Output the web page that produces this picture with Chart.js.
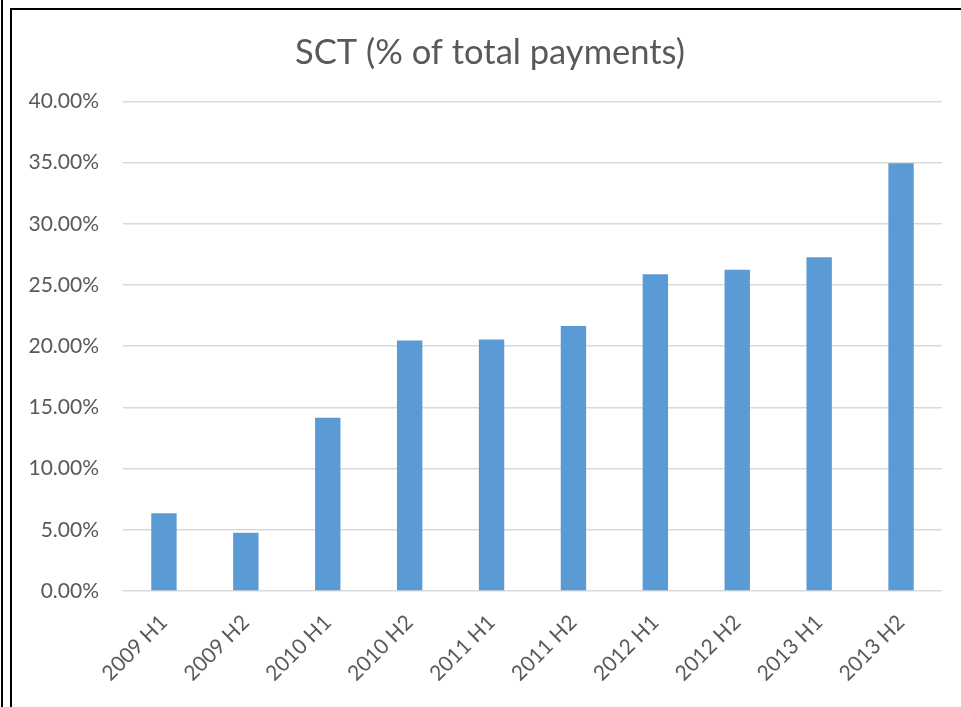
<!DOCTYPE html>
<html>
<head>
<meta charset="utf-8">
<script src="https://cdn.jsdelivr.net/npm/chart.js@4"></script>
<style>
  html, body { margin: 0; padding: 0; background: #fff; }
  #wrap { position: relative; width: 961px; height: 707px; overflow: hidden; background: #fff; }
  #c { position: absolute; left: 0; top: 0; }
  .outer { position: absolute; left: 1px; top: 0; width: 2px; height: 707px; background: #000; }
  .box { position: absolute; left: 10px; top: 8px; width: 960px; height: 710px; border-left: 2px solid #000; border-top: 2px solid #000; }
</style>
</head>
<body>
<div id="wrap">
  <canvas id="c" width="961" height="707"></canvas>
  <div class="outer"></div>
  <div class="box"></div>
</div>
<script>
const categories = ["2009 H1", "2009 H2", "2010 H1", "2010 H2", "2011 H1", "2011 H2", "2012 H1", "2012 H2", "2013 H1", "2013 H2"];
const sctShare = [6.36, 4.76, 14.15, 20.47, 20.55, 21.66, 25.88, 26.24, 27.27, 34.95];
const yTicks = [0, 5, 10, 15, 20, 25, 30, 35, 40];
const chartTitle = "SCT (% of total payments)";

const FONT = "Lato, 'Open Sans', sans-serif";
const TXT = "#595959";

// centre the title over the framed area rather than the whole canvas
const titleShift = {
  id: "titleShift",
  afterLayout(chart) {
    const t = chart.titleBlock;
    if (t) { t.left = 38; t.width = t.right - t.left; }
  }
};

new Chart(document.getElementById("c"), {
  type: "bar",
  data: {
    labels: categories,
    datasets: [{
      data: sctShare,
      backgroundColor: "#5b9bd5",
      borderWidth: 0,
      barPercentage: 0.31,
      categoryPercentage: 1.0
    }]
  },
  plugins: [titleShift],
  options: {
    responsive: false,
    animation: false,
    devicePixelRatio: 1,
    layout: { padding: { left: 0, right: 19, top: 0, bottom: 0 } },
    plugins: {
      legend: { display: false },
      tooltip: { enabled: false },
      title: {
        display: true,
        text: chartTitle,
        color: TXT,
        font: { family: FONT, size: 34.5, weight: "normal" },
        padding: { top: 32, bottom: 28 }
      }
    },
    scales: {
      x: {
        grid: { display: false, drawTicks: false },
        border: { display: false },
        ticks: {
          color: TXT,
          font: { family: FONT, size: 21 },
          maxRotation: 45,
          minRotation: 45,
          padding: 19,
          autoSkip: false
        },
        afterFit: (s) => { s.height = 116; }
      },
      y: {
        min: 0,
        max: 40,
        afterBuildTicks: (s) => { s.ticks = yTicks.map(v => ({ value: v })); },
        grid: { color: "#d9d9d9", lineWidth: 1.5, drawTicks: false },
        border: { display: false },
        ticks: {
          color: TXT,
          font: { family: FONT, size: 21 },
          padding: 24,
          callback: (v) => Number(v).toFixed(2) + "%"
        },
        afterFit: (s) => { s.width = 123; }
      }
    }
  }
});
</script>
</body>
</html>
